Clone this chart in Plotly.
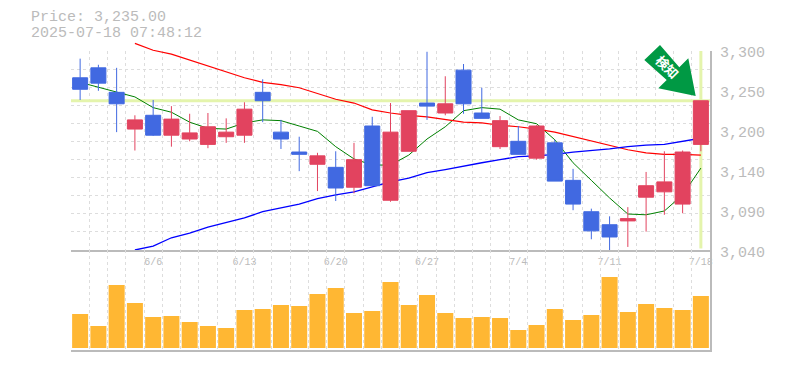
import numpy as np
import plotly.graph_objects as go

dates = ["6/2","6/3","6/4","6/5","6/6","6/9","6/10","6/11","6/12","6/13","6/16","6/17","6/18","6/19","6/20",
         "6/23","6/24","6/25","6/26","6/27","6/30","7/1","7/2","7/3","7/4","7/7","7/8","7/9","7/10","7/11",
         "7/14","7/15","7/16","7/17","7/18"]
tick_dates = ["6/6","6/13","6/20","6/27","7/4","7/11","7/18"]
price_labels = ["3,300","3,250","3,200","3,140","3,090","3,040"]
title_lines = ["Price: 3,235.00","2025-07-18 07:48:12"]

opens  = [3265,3278,3246,3198,3216,3190,3185,3178,3188,3190,3246,3194,3168,3152,3148,3122,3202,3105,3169,3232,
          3219,3275,3219,3175,3182,3160,3180,3131,3090,3073,3078,3109,3116,3100,3178]
highs  = [3290,3282,3278,3216,3236,3228,3218,3219,3212,3233,3263,3210,3188,3167,3169,3180,3214,3232,3222,3299,
          3267,3283,3252,3215,3202,3203,3184,3146,3094,3084,3096,3142,3169,3170,3235]
lows   = [3236,3248,3194,3170,3189,3175,3182,3173,3180,3180,3207,3172,3143,3117,3104,3114,3124,3103,3169,3210,
          3216,3218,3212,3172,3165,3158,3130,3092,3054,3040,3044,3064,3086,3088,3169]
closes = [3250,3258,3231,3210,3190,3211,3193,3201,3194,3224,3235,3185,3165,3163,3121,3158,3124,3194,3222,3228,
          3231,3231,3212,3209,3165,3202,3130,3100,3065,3057,3081,3124,3129,3168,3235]
ma_short = [3259,3253,3246,3240,3226,3220,3207,3199,3198,3206,3210,3209,3202,3195,3175,3159,3151,3151,3164,3185,
            3201,3222,3226,3224,3210,3205,3184,3154,3131,3108,3087,3086,3091,3112,3147]
ma_mid = [None,None,None,3310,3301,3296,3288,3281,3272,3265,3259,3256,3252,3245,3237,3232,3223,3219,3216,3214,
          3210,3207,3206,3203,3201,3198,3194,3188,3182,3176,3171,3167,3165,3165,3164]
ma_long = [None,None,None,3040,3045,3056,3062,3070,3076,3082,3090,3095,3100,3107,3112,3116,3123,3129,3134,3141,
           3145,3150,3154,3158,3162,3163,3165,3168,3170,3172,3175,3177,3178,3182,3186]
volumes = [10200,6600,18900,13500,9300,9600,7800,6600,6000,11400,11700,12900,12600,16200,18000,10500,11100,19800,
           12900,15900,10500,9000,9300,9000,5400,6900,11700,8400,9900,21300,10800,13200,12000,11400,15600]
last_price = 3235
price_min, price_max = 3040, 3300

# real page pixels; the page body adds an 8px margin
PAGE = 8
L, R, T, B = 71, 710, 41, 350
GRID_TOP, SPLIT = 51, 250
W, H = 785 - PAGE, 370 - PAGE
fx = lambda p: (p - L) / (R - L)
fy = lambda p: (B - p) / (B - T)
price_per_px = (price_max - price_min) / (SPLIT - GRID_TOP)
price_top = price_max + (GRID_TOP - T) * price_per_px
GREY = "#bbbbbb"
GRID = "#dddddd"
MONO = "Liberation Mono"

x = list(range(len(dates)))
edges = [i - 0.5 for i in range(len(dates) + 1)]
x_range = [edges[0], edges[-1]]
tick_pos = [dates.index(d) for d in tick_dates]
grid_minor = dict(tickmode="array", tickvals=edges, showgrid=True, gridcolor=GRID, griddash="3px,3px", gridwidth=1, ticks="")

# marker arrow outline, in page pixels, turned into axis units by the helpers below
arrow_pts = [(660, 45), (644.3, 60), (666.7, 80), (658.3, 88.3), (695.7, 96), (688.3, 58.3), (679.3, 67.3), (660, 45)]
arrow_x = [x_range[0] + fx(a) * (x_range[1] - x_range[0]) for a, _ in arrow_pts]
arrow_y = [price_min + (SPLIT - b) * price_per_px for _, b in arrow_pts]

fig = go.Figure()
# empty trace so the grid subplot exists underneath everything
fig.add_trace(go.Scatter(x=[], y=[], xaxis="x", yaxis="y", showlegend=False, hoverinfo="skip"))
fig.add_trace(go.Scatter(x=arrow_x, y=arrow_y, mode="lines", fill="toself", fillcolor="#009944", line=dict(width=0),
                         xaxis="x2", yaxis="y2", showlegend=False, hoverinfo="skip"))
for vals, col, w in [(ma_short, "#008000", 1.0), (ma_mid, "#ff0000", 1.2), (ma_long, "#0000ff", 1.3)]:
    fig.add_trace(go.Scatter(x=x, y=vals, mode="lines", line=dict(color=col, width=w), xaxis="x2", yaxis="y2",
                             showlegend=False, hoverinfo="skip"))
fig.add_trace(go.Candlestick(x=x, open=opens, high=highs, low=lows, close=closes, xaxis="x2", yaxis="y3", whiskerwidth=0,
                             increasing=dict(line=dict(color="#E2435F", width=1), fillcolor="#E2435F"),
                             decreasing=dict(line=dict(color="#4169E1", width=1), fillcolor="#4169E1"),
                             showlegend=False))
fig.add_trace(go.Bar(x=x, y=volumes, marker=dict(color="#FFB733", line=dict(width=0)), xaxis="x3", yaxis="y4", showlegend=False))

shapes = [
    dict(type="line", xref="x", yref="y", x0=x_range[0], x1=x_range[1], y0=last_price, y1=last_price,
         line=dict(color="#E4F4AC", width=3), layer="between"),
    dict(type="line", xref="x", yref="y", x0=x[-1], x1=x[-1], y0=3042, y1=price_max,
         line=dict(color="#E4F4AC", width=3), layer="between"),
]

annots = []
for txt, py in zip(title_lines, [17, 34]):
    annots.append(dict(text=txt, xref="paper", yref="paper", x=fx(30), y=fy(py), xanchor="left", yanchor="middle",
                       showarrow=False, borderpad=0, font=dict(family=MONO, size=15, color=GREY)))
for txt, val in zip(price_labels, np.linspace(price_max, price_min, 6)):
    annots.append(dict(text=txt, xref="paper", yref="y", x=1, y=val, xanchor="left", yanchor="middle", xshift=9, yshift=-3,
                       showarrow=False, borderpad=0, font=dict(family=MONO, size=15, color=GREY)))
annots.append(dict(text="<b>検知</b>", xref="paper", yref="paper", x=fx(667.5), y=fy(66), xanchor="center", yanchor="middle",
                   textangle=45, showarrow=False, font=dict(family="Noto Sans CJK JP", size=13, color="#ffffff")))

d_split, d_grid = fy(SPLIT), fy(GRID_TOP)
hidden_x = dict(domain=[0, 1], range=x_range, showticklabels=False, showgrid=False, zeroline=False, ticks="",
                tickmode="array", tickvals=[], showline=False)
fig.update_layout(
    width=W, height=H, margin=dict(l=L - PAGE, r=W + PAGE - R, t=T - PAGE, b=H + PAGE - B, pad=0),
    paper_bgcolor="white", plot_bgcolor="rgba(0,0,0,0)", showlegend=False, hovermode=False,
    bargap=0.123, boxgap=0.178, boxgroupgap=0, shapes=shapes, annotations=annots,
    xaxis=dict(domain=[0, 1], range=x_range, anchor="y",
               tickmode="array", tickvals=tick_pos, ticktext=tick_dates, showgrid=False, zeroline=False,
               showline=True, linecolor=GREY, linewidth=2, ticks="", ticklabelstandoff=1,
               tickfont=dict(family=MONO, size=10, color=GREY), minor=grid_minor),
    xaxis2=dict(hidden_x, anchor="y2", rangeslider=dict(visible=False)),
    xaxis3=dict(domain=[0, 1], range=x_range, anchor="y4", showticklabels=False,
                tickmode="array", tickvals=[], showgrid=False, zeroline=False,
                showline=True, linecolor=GREY, linewidth=2, ticks="", minor=grid_minor),
    yaxis=dict(domain=[d_split, d_grid], range=[price_min, price_max], anchor="x", side="right",
               tickmode="array", tickvals=list(np.linspace(price_min, price_max, 12)), showticklabels=False,
               showgrid=True, gridcolor=GRID, griddash="3px,3px", gridwidth=1, zeroline=False,
               showline=True, linecolor=GREY, linewidth=2, ticks=""),
    yaxis2=dict(domain=[d_split, 1], range=[price_min, price_top], anchor="x2", side="right",
                showticklabels=False, showgrid=False, zeroline=False, ticks=""),
    yaxis3=dict(range=[price_min, price_top], overlaying="y2", anchor="x2", side="right",
                showticklabels=False, showgrid=False, zeroline=False, ticks=""),
    yaxis4=dict(domain=[0, d_split], range=[-600, 29400], anchor="x3", side="right", showticklabels=False,
                showgrid=False, zeroline=False, showline=True, linecolor=GREY, linewidth=2, ticks=""),
)
fig.write_html("out.html", config=dict(displayModeBar=False))
